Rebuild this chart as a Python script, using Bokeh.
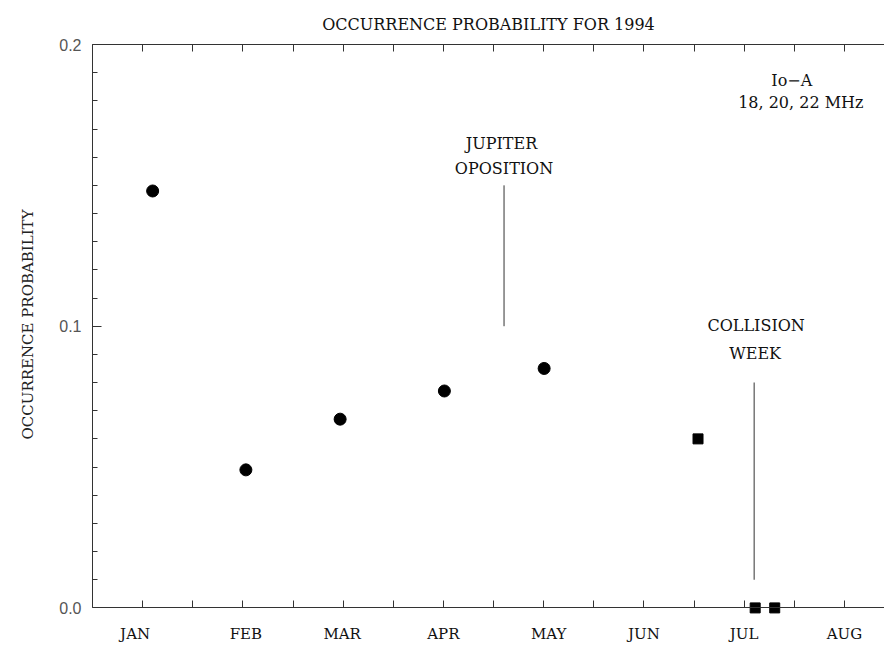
from bokeh.plotting import figure
from bokeh.models import LinearAxis, FixedTicker, Range1d, ColumnDataSource, Title
from bokeh.embed import file_html
from bokeh.resources import INLINE
from bokeh.core.properties import value

# ---- data (x in half-month tick units: tick 1 = JAN, 3 = FEB, ...) ----
month_names = ["JAN", "FEB", "MAR", "APR", "MAY", "JUN", "JUL", "AUG"]
month_label_x = [0.85, 3.06, 4.98, 7.0, 9.1, 11.0, 13.0, 15.0]
all_ticks = list(range(1, 16))

monthly_x = [1.20, 3.06, 4.94, 7.02, 9.01]
monthly_p = [0.148, 0.049, 0.067, 0.077, 0.085]

weekly_x = [12.08, 13.22, 13.61]
weekly_p = [0.060, 0.0, 0.0]

y_ticks = [0.0, 0.1, 0.2]
y_tick_labels = ["0.0", "0.1", "0.2"]

opposition_x = 8.21
opposition_y = [0.100, 0.150]
collision_x = 13.20
collision_y = [0.010, 0.080]

note_text = ["JUPITER", "OPOSITION", "COLLISION", "WEEK", "Io\u2212A", "18, 20, 22 MHz"]
note_x = [8.16, 8.21, 13.24, 13.22, 13.95, 14.13]
note_y = [0.1650, 0.1560, 0.1002, 0.0903, 0.1872, 0.1794]

month_label_y = -0.0091
y_label_text = "OCCURRENCE PROBABILITY"

SERIF = "DejaVu Serif"
SANS = "Liberation Sans"

p = figure(
    frame_width=792, frame_height=602,
    x_range=Range1d(0, 15.80), y_range=Range1d(-0.0137, 0.2),
    output_backend="svg", toolbar_location=None,
    x_axis_location=None, y_axis_location=None,
    min_border_left=92, min_border_right=0, min_border_top=44, min_border_bottom=0,
    title="OCCURRENCE PROBABILITY FOR 1994",
)
p.outline_line_color = None
p.xgrid.visible = False
p.ygrid.visible = False
p.background_fill_color = "white"
p.border_fill_color = "white"

p.title.align = "center"
p.title.vertical_align = "top"
p.title.text_font = SERIF
p.title.text_font_size = "16px"
p.title.text_font_style = "normal"
p.title.text_color = "#111111"
p.title.standoff = 18

axis_color = "#333333"

# bottom axis: ticks only, pinned at y = 0
xb = LinearAxis(ticker=FixedTicker(ticks=all_ticks), fixed_location=0)
xb.major_label_overrides = {t: "" for t in all_ticks}
xb.major_label_text_font_size = "0px"
xb.major_label_standoff = 0
xb.major_tick_in = 7
xb.major_tick_out = 0
xb.minor_tick_line_color = None
xb.axis_line_color = axis_color
xb.major_tick_line_color = axis_color
p.add_layout(xb, "below")

# top axis: ticks only
xt = LinearAxis(ticker=FixedTicker(ticks=all_ticks))
xt.major_label_overrides = {t: "" for t in all_ticks}
xt.major_label_text_font_size = "0px"
xt.major_label_standoff = 0
xt.major_tick_in = 7
xt.major_tick_out = 0
xt.minor_tick_line_color = None
xt.axis_line_color = axis_color
xt.major_tick_line_color = axis_color
p.add_layout(xt, "above")

# left axis
yl = LinearAxis(ticker=FixedTicker(ticks=y_ticks, minor_ticks=[i / 100 for i in range(0, 21)]),
                bounds=(0, 0.2))
yl.major_label_overrides = {t: s for t, s in zip(y_ticks, y_tick_labels)}
yl.major_label_text_font = SANS
yl.major_label_text_font_size = "16px"
yl.major_label_text_color = "#555555"
yl.major_label_standoff = 11
yl.major_tick_in = 9
yl.major_tick_out = 0
yl.minor_tick_in = 5
yl.minor_tick_out = 0
yl.axis_line_color = axis_color
yl.major_tick_line_color = axis_color
yl.minor_tick_line_color = axis_color
p.add_layout(yl, "left")

# y-axis title, positioned along 0..0.2
ytitle = Title(text=y_label_text, align="left", offset=207, vertical_align="top",
               standoff=35, text_font=SERIF, text_font_size="15px",
               text_font_style="normal", text_color="#222222")
p.add_layout(ytitle, "left")

# month labels
msrc = ColumnDataSource(dict(x=month_label_x, y=[month_label_y] * len(month_names), t=month_names))
p.text(x="x", y="y", text="t", source=msrc, text_align="center", text_baseline="middle",
       text_font=value(SERIF), text_font_size="15px", text_color="#111111")

# markers
p.scatter(monthly_x, monthly_p, marker="circle", size=12, color="black")
p.scatter(weekly_x, weekly_p, marker="square", size=10, color="black")

# event lines
p.line([opposition_x, opposition_x], opposition_y, line_color="#333333", line_width=1)
p.line([collision_x, collision_x], collision_y, line_color="#555555", line_width=1.2)

# notes
src = ColumnDataSource(dict(x=note_x, y=note_y, t=note_text))
p.text(x="x", y="y", text="t", source=src, text_align="center", text_baseline="middle",
       text_font=value(SERIF), text_font_size="16px", text_color="#111111")

open("out.html", "w").write(file_html(p, INLINE))
